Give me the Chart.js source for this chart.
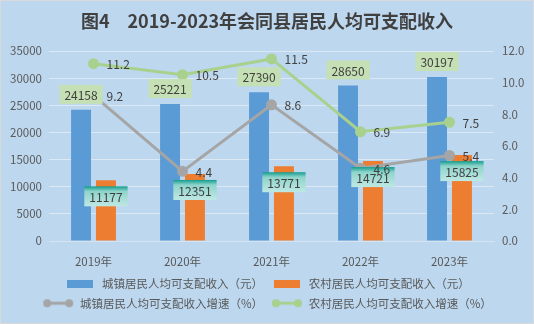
<!DOCTYPE html>
<html>
<head>
<meta charset="utf-8">
<script src="https://cdn.jsdelivr.net/npm/chart.js@4"></script>
<style>
  html, body { margin: 0; padding: 0; background: #fff; }
  #frame { width: 534px; height: 324px; box-sizing: border-box; border: 1px solid #D9D9D9; background: #BDD7EE; }
  #wrap { position: relative; width: 532px; height: 322px; }
</style>
</head>
<body>
<div id="frame"><div id="wrap"><canvas id="income"></canvas></div></div>
<script>
const years = ['2019年', '2020年', '2021年', '2022年', '2023年'];
const urbanIncome = [24158, 25221, 27390, 28650, 30197];
const ruralIncome = [11177, 12351, 13771, 14721, 15825];
const urbanGrowth = [9.2, 4.4, 8.6, 4.6, 5.4];
const ruralGrowth = [11.2, 10.5, 11.5, 6.9, 7.5];

const FONT = '"Noto Sans CJK SC", sans-serif';
const TEXT = '#595959';

// legend icons
function barIcon(color) {
  const c = document.createElement('canvas');
  c.width = 26; c.height = 8;
  const g = c.getContext('2d');
  g.fillStyle = color;
  g.fillRect(0, 0, 26, 8);
  return c;
}
function lineIcon(color) {
  const c = document.createElement('canvas');
  c.width = 32; c.height = 10;
  const g = c.getContext('2d');
  g.strokeStyle = color; g.fillStyle = color; g.lineWidth = 3;
  g.beginPath(); g.moveTo(5, 5); g.lineTo(27, 5); g.stroke();
  g.beginPath(); g.arc(5, 5, 4, 0, Math.PI * 2); g.fill();
  g.beginPath(); g.arc(27, 5, 4, 0, Math.PI * 2); g.fill();
  return c;
}
const icons = [barIcon('#5B9BD5'), barIcon('#ED7D31'), lineIcon('#A5A5A5'), lineIcon('#A9D18E')];

const valueLabels = {
  id: 'valueLabels',
  afterDatasetsDraw(chart) {
    const ctx = chart.ctx;
    ctx.save();
    ctx.font = '12px ' + FONT;
    ctx.textBaseline = 'middle';
    ctx.textAlign = 'center';
    // urban income: light green box above the bar
    chart.getDatasetMeta(0).data.forEach((bar, i) => {
      const txt = String(urbanIncome[i]);
      const w = ctx.measureText(txt).width + 10, h = 19;
      const x = bar.x - w / 2, y = bar.y - 6 - h;
      ctx.fillStyle = '#C5E0B4';
      ctx.fillRect(x, y, w, h);
      ctx.fillStyle = '#404040';
      ctx.fillText(txt, bar.x, y + h / 2 + 1);
    });
    // rural income: teal gradient box just inside the bar top
    chart.getDatasetMeta(1).data.forEach((bar, i) => {
      const txt = String(ruralIncome[i]);
      const w = ctx.measureText(txt).width + 10, h = 20;
      const x = bar.x - w / 2, y = bar.y + 6;
      const grad = ctx.createLinearGradient(0, y, 0, y + h);
      grad.addColorStop(0, '#139C8D');
      grad.addColorStop(0.25, '#8ED4CB');
      grad.addColorStop(1, '#BFE8E3');
      ctx.fillStyle = grad;
      ctx.fillRect(x, y, w, h);
      ctx.fillStyle = '#404040';
      ctx.fillText(txt, bar.x, y + h / 2 + 1);
    });
    // growth rates: plain text right of the point
    ctx.textAlign = 'left';
    [[2, urbanGrowth], [3, ruralGrowth]].forEach(([idx, vals]) => {
      chart.getDatasetMeta(idx).data.forEach((pt, i) => {
        ctx.fillStyle = '#404040';
        ctx.fillText(vals[i].toFixed(1), pt.x + 13, pt.y + 1);
      });
    });
    ctx.restore();
  }
};

new Chart(document.getElementById('income'), {
  type: 'bar',
  data: {
    labels: years,
    datasets: [
      {
        label: '城镇居民人均可支配收入（元）',
        data: urbanIncome,
        backgroundColor: '#5B9BD5',
        yAxisID: 'y',
        order: 1,
        categoryPercentage: 0.56,
        barPercentage: 0.8,
      },
      {
        label: '农村居民人均可支配收入（元）',
        data: ruralIncome,
        backgroundColor: '#ED7D31',
        yAxisID: 'y',
        order: 1,
        categoryPercentage: 0.56,
        barPercentage: 0.8,
      },
      {
        type: 'line',
        label: '城镇居民人均可支配收入增速（%）',
        data: urbanGrowth,
        borderColor: '#A5A5A5',
        backgroundColor: '#A5A5A5',
        borderWidth: 3,
        pointRadius: 4,
        yAxisID: 'y1',
        order: 0,
      },
      {
        type: 'line',
        label: '农村居民人均可支配收入增速（%）',
        data: ruralGrowth,
        borderColor: '#A9D18E',
        backgroundColor: '#A9D18E',
        borderWidth: 3,
        pointRadius: 4,
        yAxisID: 'y1',
        order: 0,
      },
    ],
  },
  options: {
    responsive: true,
    maintainAspectRatio: false,
    animation: false,
    layout: { padding: { left: 0, right: 0, top: 0, bottom: 4 } },
    plugins: {
      title: {
        display: true,
        text: '图4　2019-2023年会同县居民人均可支配收入',
        color: '#404040',
        font: { family: FONT, size: 18, weight: 'bold', lineHeight: 1.2 },
        padding: { top: 9, bottom: 19.4 },
      },
      legend: {
        position: 'bottom',
        labels: {
          color: TEXT,
          font: { family: FONT, size: 11.5 },
          usePointStyle: true,
          pointStyleWidth: 32,
          padding: 8,
          sort: (a, b) => a.datasetIndex - b.datasetIndex,
          generateLabels(chart) {
            const items = Chart.defaults.plugins.legend.labels.generateLabels(chart);
            items.forEach(it => { it.pointStyle = icons[it.datasetIndex]; });
            return items;
          },
        },
      },
      tooltip: { enabled: false },
    },
    scales: {
      x: {
        grid: { display: false },
        border: { color: '#D6E4F0' },
        ticks: { color: TEXT, font: { family: FONT, size: 11.5 }, padding: 6 },
        afterFit: s => { s.height = 29; },
      },
      y: {
        position: 'left',
        min: 0,
        max: 35000,
        ticks: { stepSize: 5000, color: TEXT, font: { family: FONT, size: 11.5 }, padding: 7,
          callback: v => String(v) },
        grid: { color: '#DCE8F4', drawTicks: false },
        border: { display: false },
        afterFit: s => { s.width = 48; },
      },
      y1: {
        position: 'right',
        min: 0,
        max: 12,
        ticks: { stepSize: 2, color: TEXT, font: { family: FONT, size: 11.5 }, padding: 8,
          callback: v => v.toFixed(1) },
        grid: { drawOnChartArea: false, drawTicks: false },
        border: { display: false },
        afterFit: s => { s.width = 39; },
      },
    },
  },
  plugins: [valueLabels],
});
</script>
</body>
</html>
